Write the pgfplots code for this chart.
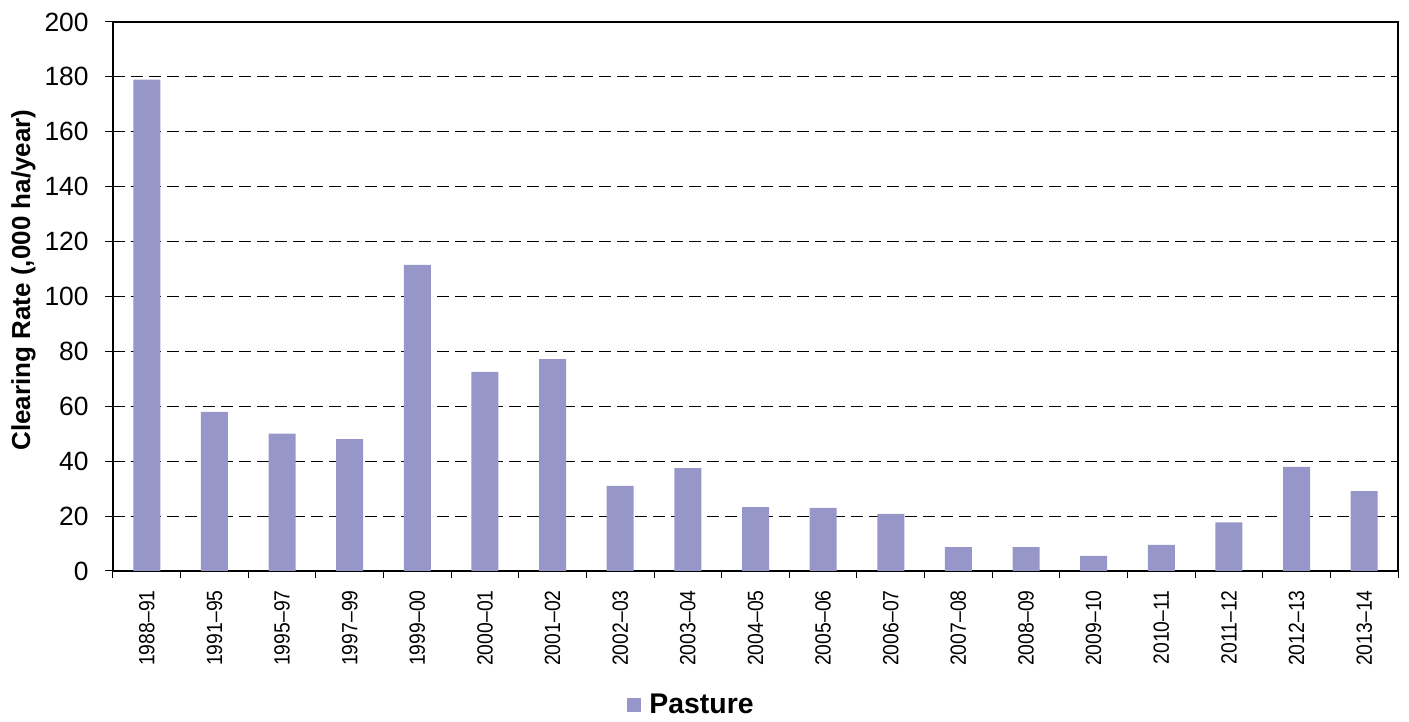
\documentclass[border=0pt]{standalone}
\usepackage{fontspec}
\setmainfont{Liberation Sans}
\newfontfamily\narrowfont[FakeStretch=0.88, Ligatures=TeX]{Liberation Sans}
\usepackage{pgfplots}
\pgfplotsset{compat=1.18}
\definecolor{pasture}{HTML}{9696C8}

\begin{document}
\begin{tikzpicture}
\begin{axis}[
    at={(0,0)}, anchor=south west,
    scale only axis,
    width=642.5pt, height=274.5pt,
    ybar, bar width=13.5pt,
    xmin=-0.5, xmax=18.5,
    ymin=0, ymax=200,
    ytick={0,20,...,200},
    xtick={0,...,18},
    xticklabels={1988--91,1991--95,1995--97,1997--99,1999--00,2000--01,2001--02,2002--03,2003--04,2004--05,2005--06,2006--07,2007--08,2008--09,2009--10,2010--11,2011--12,2012--13,2013--14},
    minor xtick={-0.5,0.5,...,18.5},
    tick pos=left,
    tick align=outside,
    major tick length=4pt,
    minor tick length=3.5pt,
    major x tick style={draw=none},
    tick style={black, line width=0.5pt},
    axis line style={black, line width=0.6pt},
    ymajorgrids,
    grid style={black, line width=0.5pt, dash pattern=on 6pt off 3pt},
    /pgf/number format/assume math mode=true,
    tick label style={inner sep=0pt},
    yticklabel style={font=\fontsize{13.2}{15}\selectfont, anchor=east},
    yticklabel shift=8pt,
    x tick label style={rotate=90, anchor=east, font=\narrowfont\fontsize{11}{13}\selectfont},
    xticklabel shift=5.5pt,
    ylabel={\textbf{Clearing Rate (,000 ha/year)}},
    ylabel style={at={(axis description cs:0,0.53)}, anchor=center, yshift=44.75pt, font=\fontsize{13}{15}\selectfont},
    legend style={at={(axis description cs:0.451,0)}, anchor=center, yshift=-67pt, draw=none, font=\bfseries\fontsize{14.2}{16}\selectfont},
    legend image code/.code={\fill[#1] (0pt,-3.5pt) rectangle (7pt,3.5pt); \path (9pt,0pt);},
]
\addplot[fill=pasture, draw=none] coordinates {
    (0,179) (1,58) (2,50) (3,48) (4,111.5) (5,72.5) (6,77.2) (7,31) (8,37.5)
    (9,23.3) (10,23) (11,20.8) (12,8.7) (13,8.7) (14,5.5) (15,9.5) (16,17.7)
    (17,37.9) (18,29.1)
};
\addlegendentry{Pasture}
\end{axis}
\pgfresetboundingbox
\path[use as bounding box] (-56.5pt,-75.5pt) rectangle (648pt,285.5pt);
\end{tikzpicture}
\end{document}
